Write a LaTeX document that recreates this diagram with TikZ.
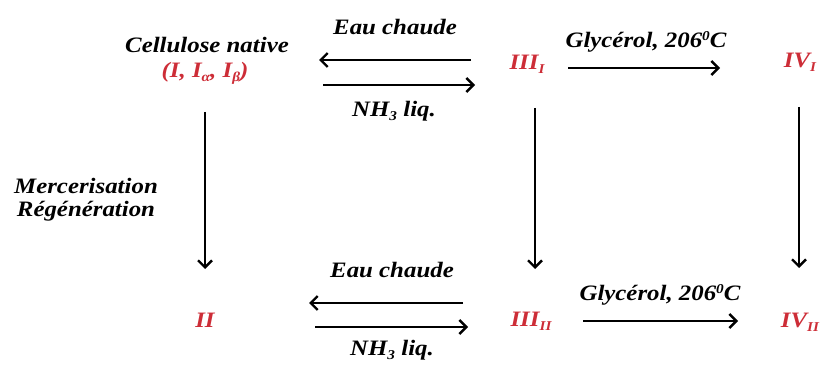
\documentclass[tikz,border=0pt]{standalone}
\usepackage{fontspec}
\setmainfont{Liberation Serif}[FakeStretch=1.13]
\usetikzlibrary{arrows.meta}
\definecolor{cred}{RGB}{205,45,55}
\newcommand{\mysub}[1]{\raisebox{-0.4ex}{\fontsize{13.5}{13.5}\selectfont #1}}
\newcommand{\mysup}[1]{\raisebox{0.75ex}{\fontsize{13.5}{13.5}\selectfont #1}}
\tikzset{
  lbl/.style={font=\fontsize{22}{25}\selectfont\bfseries\itshape, inner sep=0pt, anchor=center},
  spc/.style={lbl, text=cred},
  arr/.style={line width=2.6pt, -{Straight Barb[length=7pt,width=14pt,line width=2.4pt]}}
}
\begin{document}
\begin{tikzpicture}[x=1pt,y=-1pt]
\useasboundingbox (0,0) rectangle (822,366);
% species
\node[lbl] (cn) at (207,45) {Cellulose native};
\node[spc] (c1) at (205,73) {(I, I\mysub{α}, I\mysub{β})};
\node[spc] (t1) at (527,64) {III\mysub{I}};
\node[spc] (f1) at (800,62) {IV\mysub{I}};
\node[spc] (c2) at (205,320) {II};
\node[spc] (t2) at (531,321) {III\mysub{II}};
\node[spc] (f2) at (800,322) {IV\mysub{II}};
% labels
\node[lbl] (ec1) at (395,27) {Eau chaude};
\node[lbl] (nh1) at (394,111) {NH\mysub{3} liq.};
\node[lbl] (gl1) at (646,42) {Glycérol, 206\mysup{0}C};
\node[lbl] (ec2) at (392,270) {Eau chaude};
\node[lbl] (nh2) at (392,350) {NH\mysub{3} liq.};
\node[lbl] (gl2) at (660,295) {Glycérol, 206\mysup{0}C};
\node[lbl] (me) at (86,186) {Mercerisation};
\node[lbl] (re) at (86,211) {Régénération};
% arrow end points
\coordinate (a1s) at (471,60); \coordinate (a1e) at (319,60);
\coordinate (a2s) at (323,85); \coordinate (a2e) at (475,85);
\coordinate (a3s) at (568,68); \coordinate (a3e) at (720,68);
\coordinate (v1s) at (205,112); \coordinate (v1e) at (205,269);
\coordinate (v2s) at (535,108); \coordinate (v2e) at (535,269);
\coordinate (v3s) at (799,107); \coordinate (v3e) at (799,268);
\coordinate (b1s) at (463,303); \coordinate (b1e) at (309,303);
\coordinate (b2s) at (315,327); \coordinate (b2e) at (468,327);
\coordinate (b3s) at (583,321); \coordinate (b3e) at (738,321);
% arrows
\foreach \s/\e in {a1s/a1e,a2s/a2e,a3s/a3e,v1s/v1e,v2s/v2e,v3s/v3e,b1s/b1e,b2s/b2e,b3s/b3e}
  \draw[arr] (\s) -- (\e);
\end{tikzpicture}
\end{document}
